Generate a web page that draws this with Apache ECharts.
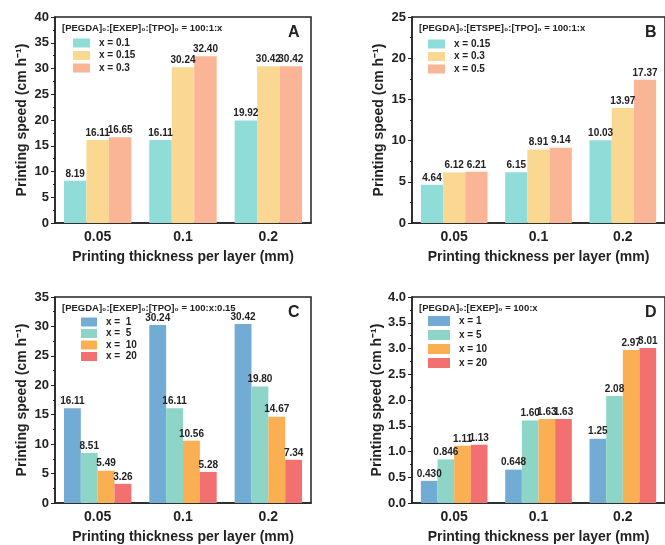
<!DOCTYPE html>
<html>
<head>
<meta charset="utf-8">
<script src="https://cdn.jsdelivr.net/npm/echarts@6/dist/echarts.min.js"></script>
<style>
  html, body { margin: 0; padding: 0; background: #fff; }
  #main { width: 665px; height: 545px; }
</style>
</head>
<body>
<div id="main"></div>
<script>
// categories shared by all four panels
var thickness = ['0.05', '0.1', '0.2'];

// panel A: [PEGDA]0:[EXEP]0:[TPO]0 = 100:1:x
var namesA = ['x = 0.1', 'x = 0.15', 'x = 0.3'];
var valuesA = [
    [8.19, 16.11, 19.92],
    [16.11, 30.24, 30.42],
    [16.65, 32.40, 30.42]
];

// panel B: [PEGDA]0:[ETSPE]0:[TPO]0 = 100:1:x
var namesB = ['x = 0.15', 'x = 0.3', 'x = 0.5'];
var valuesB = [
    [4.64, 6.15, 10.03],
    [6.12, 8.91, 13.97],
    [6.21, 9.14, 17.37]
];

// panel C: [PEGDA]0:[EXEP]0:[TPO]0 = 100:x:0.15
var namesC = ['x =  1', 'x =  5', 'x =  10', 'x =  20'];
var valuesC = [
    [16.11, 30.24, 30.42],
    [8.51, 16.11, 19.80],
    [5.49, 10.56, 14.67],
    [3.26, 5.28, 7.34]
];

// panel D: [PEGDA]0:[EXEP]0 = 100:x
var namesD = ['x = 1', 'x = 5', 'x = 10', 'x = 20'];
var valuesD = [
    [0.430, 0.648, 1.25],
    [0.846, 1.60, 2.08],
    [1.11, 1.63, 2.97],
    [1.13, 1.63, 3.01]
];

var colorsWarm = ['#90dcd8', '#fbd892', '#f9b595'];
var colorsCool = ['#72acd4', '#8dd6c7', '#f9af52', '#f27070'];

var font = 'Liberation Sans, Arial, sans-serif';
var dark = '#222';

var panels = [
    { key: 'A', names: namesA, values: valuesA, colors: colorsWarm, max: 40, interval: 5,
      left: 55, top: 17, note: '[PEGDA]₀:[EXEP]₀:[TPO]₀ = 100:1:x',
      legend: { left: 73, top: 38, w: 17, h: 9, gap: 2.5 }, digits: 'fixed' },
    { key: 'B', names: namesB, values: valuesB, colors: colorsWarm, max: 25, interval: 5,
      left: 412, top: 17, note: '[PEGDA]₀:[ETSPE]₀:[TPO]₀ = 100:1:x',
      legend: { left: 428, top: 39, w: 17, h: 9, gap: 2.5 }, digits: 'fixed' },
    { key: 'C', names: namesC, values: valuesC, colors: colorsCool, max: 35, interval: 5,
      left: 55, top: 297, note: '[PEGDA]₀:[EXEP]₀:[TPO]₀ = 100:x:0.15',
      legend: { left: 81, top: 317, w: 16, h: 9, gap: 1.5 }, digits: 'fixed' },
    { key: 'D', names: namesD, values: valuesD, colors: colorsCool, max: 4, interval: 0.5,
      left: 412, top: 297, note: '[PEGDA]₀:[EXEP]₀ = 100:x',
      legend: { left: 428, top: 316, w: 22, h: 10, gap: 4 }, digits: 'prec' }
];

var grids = [], xAxes = [], yAxes = [], series = [], legends = [], titles = [];

panels.forEach(function (p, i) {
    grids.push({
        left: p.left, top: p.top, width: 256, height: 206,
        show: true, borderColor: dark, borderWidth: 1.5, backgroundColor: 'transparent'
    });
    xAxes.push({
        type: 'category', gridIndex: i, data: thickness,
        name: 'Printing thickness per layer (mm)', nameLocation: 'middle', nameGap: 27,
        nameTextStyle: { fontFamily: font, fontWeight: 'bold', fontSize: 14, color: dark },
        axisLine: { lineStyle: { color: dark, width: 1.5 } },
        axisTick: { alignWithLabel: true, length: 3, lineStyle: { color: dark } },
        axisLabel: { fontFamily: font, fontWeight: 'bold', fontSize: 14, color: dark, margin: 7 }
    });
    yAxes.push({
        type: 'value', gridIndex: i, min: 0, max: p.max, interval: p.interval,
        name: 'Printing speed (cm h⁻¹)', nameLocation: 'middle', nameGap: 26,
        nameTextStyle: { fontFamily: font, fontWeight: 'bold', fontSize: 14, color: dark },
        axisLine: { show: true, lineStyle: { color: dark, width: 1.5 } },
        axisTick: { show: true, length: 4, lineStyle: { color: dark } },
        minorTick: { show: true, splitNumber: 2, length: 2, lineStyle: { color: dark } },
        splitLine: { show: false },
        axisLabel: {
            fontFamily: font, fontWeight: 'bold', fontSize: 13, color: dark, margin: 6,
            formatter: function (v) { return p.interval < 1 ? v.toFixed(1) : String(v); }
        }
    });
    p.names.forEach(function (n, k) {
        series.push({
            type: 'bar', name: p.key + n, xAxisIndex: i, yAxisIndex: i,
            data: p.values[k],
            barGap: '0%', barCategoryGap: '21%',
            itemStyle: { color: p.colors[k] },
            label: {
                show: true, position: 'top', distance: 2,
                fontFamily: font, fontWeight: 'bold', fontSize: 10, color: dark,
                formatter: function (d) {
                    return p.digits === 'prec' ? d.value.toPrecision(3) : d.value.toFixed(2);
                }
            }
        });
    });
    legends.push({
        orient: 'vertical', left: p.legend.left, top: p.legend.top, padding: 0,
        itemWidth: p.legend.w, itemHeight: p.legend.h, itemGap: p.legend.gap,
        icon: 'rect', selectedMode: false,
        data: p.names.map(function (n) { return p.key + n; }),
        formatter: function (name) { return name.slice(1); },
        textStyle: { fontFamily: font, fontWeight: 'bold', fontSize: 10, color: dark, padding: [0, 0, 0, 4] }
    });
    titles.push({
        text: p.note, left: p.left + 7, top: p.top + 6, padding: 0,
        textStyle: { fontFamily: font, fontWeight: 'bold', fontSize: 9.5, color: dark }
    });
    titles.push({
        text: p.key, left: p.left + 233, top: p.top + 8, padding: 0,
        textStyle: { fontFamily: font, fontWeight: 'bold', fontSize: 16, color: dark }
    });
});

var myChart = echarts.init(document.getElementById('main'), null, { renderer: 'canvas' });
var option = {
    backgroundColor: '#fff',
    animation: false,
    title: titles,
    legend: legends,
    grid: grids,
    xAxis: xAxes,
    yAxis: yAxes,
    series: series
};
option && myChart.setOption(option);
</script>
</body>
</html>
